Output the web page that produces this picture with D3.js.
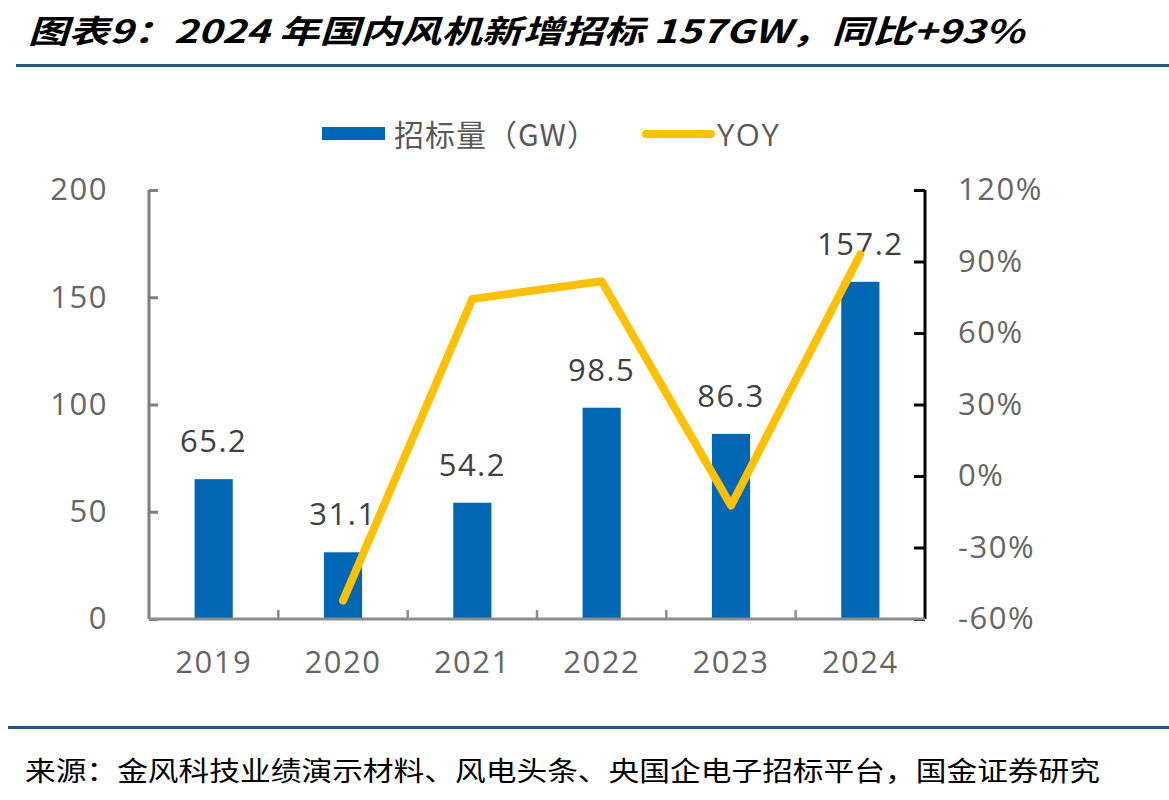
<!DOCTYPE html>
<html>
<head>
<meta charset="utf-8">
<script src="https://cdn.jsdelivr.net/npm/d3@7"></script>
<style>
  body { margin: 0; background: #fff; }
  svg { display: block; }
</style>
</head>
<body>
<script>
// data
const years = ["2019", "2020", "2021", "2022", "2023", "2024"];
const tender = [65.2, 31.1, 54.2, 98.5, 86.3, 157.2];   // GW
const yoyYears = ["2020", "2021", "2022", "2023", "2024"];
const yoy = [-52.3, 74.3, 81.7, -12.4, 93];           // %
const leftTicks = [0, 50, 100, 150, 200];
const rightTicks = [-60, -30, 0, 30, 60, 90, 120];

const title = "图表9：2024 年国内风机新增招标 157GW，同比+93%";
const source = "来源：金风科技业绩演示材料、风电头条、央国企电子招标平台，国金证券研究";

const W = 1169, H = 800;
const margin = { top: 190, right: 244, bottom: 181, left: 149 };
const blue = "#0067b4", yellow = "#ffc000", rule = "#1f5b7c";
const numFont = "'Open Sans', 'Noto Sans', sans-serif";
const cjkFont = "'Noto Sans CJK SC', sans-serif";
const fs = 31, ls = 1.5;

const svg = d3.select("body").append("svg").attr("width", W).attr("height", H);

// title + rules
svg.append("text")
  .attr("x", 28).attr("y", 43)
  .attr("font-family", cjkFont).attr("font-weight", "bold").attr("font-style", "italic")
  .attr("font-size", 32).attr("fill", "#000")
  .attr("textLength", 996).attr("lengthAdjust", "spacingAndGlyphs")
  .text(title);
svg.append("line").attr("x1", 16).attr("x2", W).attr("y1", 65.5).attr("y2", 65.5)
  .attr("stroke", rule).attr("stroke-width", 3);
svg.append("line").attr("x1", 8).attr("x2", W).attr("y1", 727.5).attr("y2", 727.5)
  .attr("stroke", rule).attr("stroke-width", 3);
svg.append("text")
  .attr("x", 25).attr("y", 781)
  .attr("font-family", cjkFont).attr("font-size", 27).attr("fill", "#000")
  .attr("textLength", 1075).attr("lengthAdjust", "spacingAndGlyphs")
  .text(source);

const x0 = margin.left, x1 = W - margin.right;
const yb = H - margin.bottom, yt = margin.top;

const x = d3.scaleBand().domain(years).range([x0, x1]).paddingInner(0.705).paddingOuter(0.3525);
const xc = d3.scaleBand().domain(years).range([x0, x1]);
const y = d3.scaleLinear().domain([0, 200]).range([yb, yt]);
const y2 = d3.scaleLinear().domain([-60, 120]).range([yb, yt]);

// bars
svg.append("g").selectAll("rect").data(tender).join("rect")
  .attr("x", (d, i) => x(years[i]))
  .attr("y", d => y(d))
  .attr("width", x.bandwidth())
  .attr("height", d => y(0) - y(d))
  .attr("fill", blue);

// bar labels
svg.append("g").selectAll("text").data(tender).join("text")
  .attr("x", (d, i) => x(years[i]) + x.bandwidth() / 2)
  .attr("y", d => y(d) - 27)
  .attr("text-anchor", "middle")
  .attr("font-family", numFont).attr("font-size", fs).attr("letter-spacing", ls).attr("fill", "#404040")
  .text(d => d.toFixed(1));

// left axis
const axL = svg.append("g").attr("transform", `translate(${x0},0)`)
  .call(d3.axisRight(y).tickValues(leftTicks).tickSize(9).tickFormat(d3.format("d")));
axL.select(".domain").attr("stroke", "#7f7f7f").attr("stroke-width", 3)
  .attr("d", `M0,${yt}V${yb}`);
axL.selectAll(".tick line").attr("stroke", "#7f7f7f").attr("stroke-width", 3);
axL.selectAll(".tick text").attr("text-anchor", "end").attr("x", -41)
  .attr("font-family", numFont).attr("font-size", fs).attr("letter-spacing", ls).attr("fill", "#666");

// right axis
const axR = svg.append("g").attr("transform", `translate(${x1},0)`)
  .call(d3.axisLeft(y2).tickValues(rightTicks).tickSize(11).tickFormat(d => d + "%"));
axR.select(".domain").attr("stroke", "#000").attr("stroke-width", 3)
  .attr("d", `M0,${yt}V${yb}`);
axR.selectAll(".tick line").attr("stroke", "#000").attr("stroke-width", 3);
axR.selectAll(".tick text").attr("text-anchor", "start").attr("x", 33)
  .attr("font-family", numFont).attr("font-size", fs).attr("letter-spacing", ls).attr("fill", "#666");

// x axis
const axB = svg.append("g").attr("transform", `translate(0,${yb})`)
  .call(d3.axisBottom(xc).tickSize(0).tickPadding(32));
axB.select(".domain").attr("stroke", "#8c8c8c").attr("stroke-width", 3)
  .attr("d", `M${x0},0H${x1}`);
axB.selectAll(".tick text")
  .attr("font-family", numFont).attr("font-size", fs).attr("letter-spacing", ls).attr("fill", "#666");
svg.append("g").selectAll("line").data(years.slice(1)).join("line")
  .attr("x1", d => xc(d)).attr("x2", d => xc(d))
  .attr("y1", yb).attr("y2", yb - 9)
  .attr("stroke", "#8c8c8c").attr("stroke-width", 2.5);

// yoy line
const line = d3.line()
  .x((d, i) => xc(yoyYears[i]) + xc.bandwidth() / 2)
  .y(d => y2(d));
svg.append("path").datum(yoy)
  .attr("d", line)
  .attr("fill", "none").attr("stroke", yellow).attr("stroke-width", 8)
  .attr("stroke-linejoin", "round").attr("stroke-linecap", "round");

// legend
const lg = svg.append("g");
lg.append("rect").attr("x", 322).attr("y", 127).attr("width", 63).attr("height", 13).attr("fill", blue);
lg.append("text").attr("x", 394).attr("y", 146)
  .attr("font-family", cjkFont).attr("font-size", 30).attr("letter-spacing", 1).attr("fill", "#595959")
  .text("招标量（GW）");
lg.append("line").attr("x1", 646).attr("x2", 711).attr("y1", 134).attr("y2", 134)
  .attr("stroke", yellow).attr("stroke-width", 8).attr("stroke-linecap", "round");
lg.append("text").attr("x", 717).attr("y", 146)
  .attr("font-family", numFont).attr("font-size", fs).attr("letter-spacing", ls).attr("fill", "#595959")
  .text("YOY");
</script>
</body>
</html>
